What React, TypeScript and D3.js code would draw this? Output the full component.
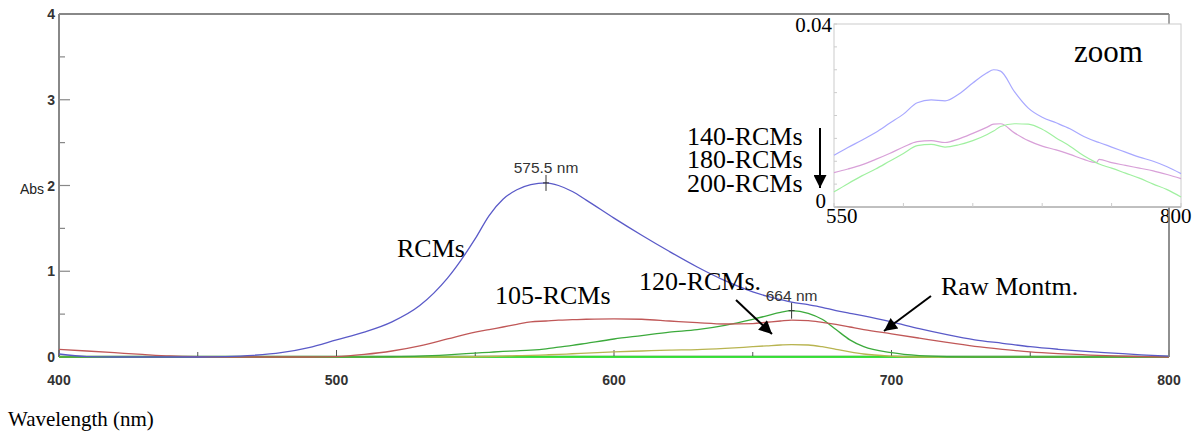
import React from 'react';
import * as d3 from 'd3';

// ---------- main spectrum data ----------
const wavelengths = [400,410,420,430,440,450,460,470,480,490,500,510,520,530,540,550,555,560,565,570,575.5,580,585,590,600,610,620,630,640,650,655,660,664,670,675,680,685,690,700,710,720,730,740,750,760,770,780,790,800];
const rcms = [0.035,0.005,0,0,0,0,0.005,0.02,0.05,0.11,0.2,0.29,0.41,0.6,0.92,1.38,1.65,1.84,1.95,2.01,2.03,2.0,1.93,1.83,1.62,1.42,1.23,1.05,0.89,0.76,0.71,0.67,0.64,0.61,0.58,0.54,0.51,0.48,0.41,0.33,0.26,0.2,0.16,0.12,0.09,0.065,0.045,0.025,0.01];
const rcms105 = [0.09,0.07,0.05,0.03,0.012,0.003,0,0,0,0,0.005,0.03,0.07,0.13,0.21,0.29,0.32,0.35,0.38,0.41,0.42,0.43,0.435,0.44,0.445,0.44,0.42,0.4,0.385,0.39,0.405,0.42,0.43,0.425,0.405,0.38,0.35,0.32,0.27,0.22,0.17,0.125,0.09,0.06,0.04,0.025,0.012,0.005,0];
const rcms120 = [0,0,0,0,0,0,0,0,0,0,0,0,0.003,0.01,0.025,0.045,0.055,0.065,0.072,0.08,0.095,0.115,0.135,0.16,0.21,0.25,0.29,0.32,0.37,0.44,0.48,0.52,0.54,0.51,0.44,0.32,0.2,0.12,0.05,0.015,0.003,0,0,0,0,0,0,0,0];
const olive = [0,0,0,0,0,0,0,0,0,0,0,0,0,0,0,0.003,0.006,0.01,0.015,0.02,0.025,0.03,0.038,0.045,0.06,0.07,0.08,0.085,0.1,0.12,0.13,0.14,0.145,0.14,0.12,0.09,0.06,0.035,0.01,0,0,0,0,0,0,0,0,0,0];
const baselineNm = [400,500,600,700,800];
const baseDark = [0.004,0.004,0.004,0.004,0.004];
const baseBright = [0,0,0,0,0];

const xTicks = [400,450,500,550,600,650,700,750,800];
const xLabels = [400,500,600,700,800];
const yTicks = [0,0.5,1,1.5,2,2.5,3,3.5,4];
const yLabels = [0,1,2,3,4];

// ---------- inset (zoom) data ----------
const insetNm = [550,560,570,580,590,600,610,620,630,640,650,660,665,670,680,690,700,710,720,730,739,741,750,760,770,780,790,800];
const rcms140 = [0.0113,0.013,0.0146,0.0163,0.0183,0.0203,0.0228,0.0234,0.0232,0.0247,0.0271,0.0293,0.03,0.0297,0.0252,0.0216,0.0196,0.0184,0.0171,0.0154,0.0143,0.0141,0.0131,0.012,0.0109,0.01,0.0088,0.0073];
const rcms180 = [0.0075,0.0083,0.0092,0.0104,0.0117,0.0131,0.0143,0.0145,0.0141,0.0149,0.0161,0.0174,0.0181,0.0182,0.0162,0.0145,0.0133,0.0125,0.0115,0.0104,0.0097,0.0104,0.0097,0.0091,0.0085,0.0079,0.0071,0.0062];
const rcms200 = [0.0033,0.0051,0.0068,0.0083,0.01,0.0117,0.0134,0.0137,0.0131,0.0136,0.0145,0.0158,0.0166,0.0176,0.0182,0.0181,0.017,0.0151,0.0133,0.0112,0.0097,0.0094,0.0085,0.0074,0.0063,0.005,0.0038,0.0022];
const insetXTicks = [550,600,650,700,750,800];
const insetYTicks = [0,0.005,0.01,0.015,0.02,0.025,0.03,0.035,0.04];

const peaks = [
  { nm: 575.5, value: 2.03, label: '575.5 nm' },
  { nm: 664, value: 0.54, label: '664 nm' },
];

const SERIF = '"Liberation Serif", "Times New Roman", serif';
const SANS = '"Liberation Sans", Arial, sans-serif';

export default function App() {
  const x = d3.scaleLinear().domain([400, 800]).range([59, 1169]);
  const y = d3.scaleLinear().domain([0, 4]).range([357, 14]);
  const xi = d3.scaleLinear().domain([550, 800]).range([834, 1181]);
  const yi = d3.scaleLinear().domain([0, 0.04]).range([207, 24]);

  const line = (xs: number[], vs: number[]) =>
    d3.line<number>().x((_, i) => x(xs[i])).y((v) => y(v)).curve(d3.curveMonotoneX)(vs) || '';
  const iline = (vs: number[]) =>
    d3.line<number>().x((_, i) => xi(insetNm[i])).y((v) => yi(v)).curve(d3.curveMonotoneX)(vs) || '';

  const mainSeries = [
    { vs: olive, color: '#b8b450' },
    { vs: rcms120, color: '#3caa3c' },
    { vs: rcms105, color: '#c05858' },
    { vs: rcms, color: '#5a5ac8' },
  ];

  return (
    <svg width={1195} height={435} style={{ position: 'absolute', left: 0, top: 0, background: '#fff' }}>
      <defs>
        <marker id="ah" viewBox="0 0 10 10" refX="10" refY="5" markerWidth="7.5" markerHeight="6.5" orient="auto-start-reverse" markerUnits="strokeWidth">
          <path d="M0,0 L10,5 L0,10 z" fill="#000" />
        </marker>
      </defs>

      {/* frame */}
      <line x1={x(400)} x2={x(800)} y1={y(4)} y2={y(4)} stroke="#888" strokeWidth={2} />
      <line x1={x(800)} x2={x(800)} y1={y(4)} y2={y(0)} stroke="#888" strokeWidth={1.5} />
      <line x1={x(400)} x2={x(400)} y1={y(4)} y2={y(0)} stroke="#888" strokeWidth={2} />
      <line x1={x(400)} x2={x(800)} y1={y(0)} y2={y(0)} stroke="#888" strokeWidth={1.5} />

      {/* y ticks */}
      {yTicks.map((t) => (
        <line key={'yt' + t} x1={x(400)} x2={x(400) + (t % 1 === 0 ? 11 : 6)} y1={y(t)} y2={y(t)} stroke="#888" strokeWidth={1.2} />
      ))}
      {yLabels.map((t) => (
        <text key={'yl' + t} x={x(400) - 4} y={y(t) + 5} textAnchor="end" fontFamily={SANS} fontWeight="bold" fontSize={14} fill="#333">{t}</text>
      ))}
      <text x={44} y={y(2) + 8} textAnchor="end" fontFamily={SANS} fontSize={14} fill="#222">Abs</text>

      {/* x ticks */}
      {xTicks.map((t) => (
        <line key={'xt' + t} x1={x(t)} x2={x(t)} y1={y(0)} y2={y(0) - (t % 100 === 0 ? 7 : 5)} stroke="#555" strokeWidth={1} />
      ))}
      {xLabels.map((t) => (
        <text key={'xl' + t} x={x(t)} y={385} textAnchor="middle" fontFamily={SANS} fontWeight="bold" fontSize={14} fill="#333">{t}</text>
      ))}
      <text x={8} y={426} fontFamily={SERIF} fontSize={21} fill="#000">Wavelength (nm)</text>

      {/* baselines */}
      <path d={line(baselineNm, baseDark)} fill="none" stroke="#0a7a0a" strokeWidth={2} />
      <path d={line(baselineNm, baseBright)} fill="none" stroke="#44ff44" strokeWidth={1.5} />

      {/* spectra */}
      {mainSeries.map((s, i) => (
        <path key={'s' + i} d={line(wavelengths, s.vs)} fill="none" stroke={s.color} strokeWidth={1.3} />
      ))}

      {/* peak markers */}
      {peaks.map((p) => (
        <g key={p.label}>
          <line x1={x(p.nm)} x2={x(p.nm)} y1={y(p.value) - 8} y2={y(p.value) + 8} stroke="#333" strokeWidth={1} />
          <line x1={x(p.nm) - 3} x2={x(p.nm) + 3} y1={y(p.value)} y2={y(p.value)} stroke="#333" strokeWidth={1} />
          <text x={x(p.nm)} y={y(p.value) - 10} textAnchor="middle" fontFamily={SANS} fontSize={15.5} fill="#333">{p.label}</text>
        </g>
      ))}

      {/* labels */}
      <text x={397} y={257} fontFamily={SERIF} fontSize={26}>RCMs</text>
      <text x={495} y={304} fontFamily={SERIF} fontSize={26}>105-RCMs</text>
      <text x={639} y={290} fontFamily={SERIF} fontSize={26}>120-RCMs.</text>
      <line x1={736} y1={300} x2={772} y2={334} stroke="#000" strokeWidth={2} markerEnd="url(#ah)" />
      <text x={941} y={295} fontFamily={SERIF} fontSize={26}>Raw Montm.</text>
      <line x1={931} y1={296} x2={884} y2={331} stroke="#000" strokeWidth={2} markerEnd="url(#ah)" />

      {/* inset */}
      <rect x={xi(550)} y={yi(0.04)} width={xi(800) - xi(550)} height={yi(0) - yi(0.04)} fill="#fff" stroke="#ccc" strokeWidth={1} />
      <line x1={xi(550)} x2={xi(800)} y1={yi(0)} y2={yi(0)} stroke="#999" strokeWidth={1.2} />
      {insetYTicks.map((t) => (
        <line key={'iy' + t} x1={xi(550)} x2={xi(550) + 3} y1={yi(t)} y2={yi(t)} stroke="#ccc" strokeWidth={1} />
      ))}
      {insetXTicks.map((t) => (
        <line key={'ix' + t} x1={xi(t)} x2={xi(t)} y1={yi(0)} y2={yi(0) - 4} stroke="#ccc" strokeWidth={1} />
      ))}
      <path d={iline(rcms140)} fill="none" stroke="#a8a8ff" strokeWidth={1.2} />
      <path d={iline(rcms180)} fill="none" stroke="#d8a0d8" strokeWidth={1.2} />
      <path d={iline(rcms200)} fill="none" stroke="#a0f0a0" strokeWidth={1.2} />
      <text x={xi(550) - 2} y={yi(0.04) + 8} textAnchor="end" fontFamily={SERIF} fontSize={21}>0.04</text>
      <text x={xi(550) - 8} y={yi(0) + 1} textAnchor="end" fontFamily={SERIF} fontSize={21}>0</text>
      <text x={xi(550) - 8} y={yi(0) + 16} fontFamily={SERIF} fontSize={21}>550</text>
      <text x={xi(800) - 21} y={yi(0) + 16} fontFamily={SERIF} fontSize={21}>800</text>
      <text x={1074} y={62} fontFamily={SERIF} fontSize={31}>zoom</text>
      <text x={687} y={145} fontFamily={SERIF} fontSize={26}>140-RCMs</text>
      <text x={687} y={168} fontFamily={SERIF} fontSize={26}>180-RCMs</text>
      <text x={687} y={192} fontFamily={SERIF} fontSize={26}>200-RCMs</text>
      <line x1={820} y1={128} x2={820} y2={188} stroke="#000" strokeWidth={2} markerEnd="url(#ah)" />

      {/* right frame showing below the inset */}
      <line x1={x(800)} x2={x(800)} y1={yi(0) + 1} y2={y(0)} stroke="#888" strokeWidth={1.5} />
    </svg>
  );
}
